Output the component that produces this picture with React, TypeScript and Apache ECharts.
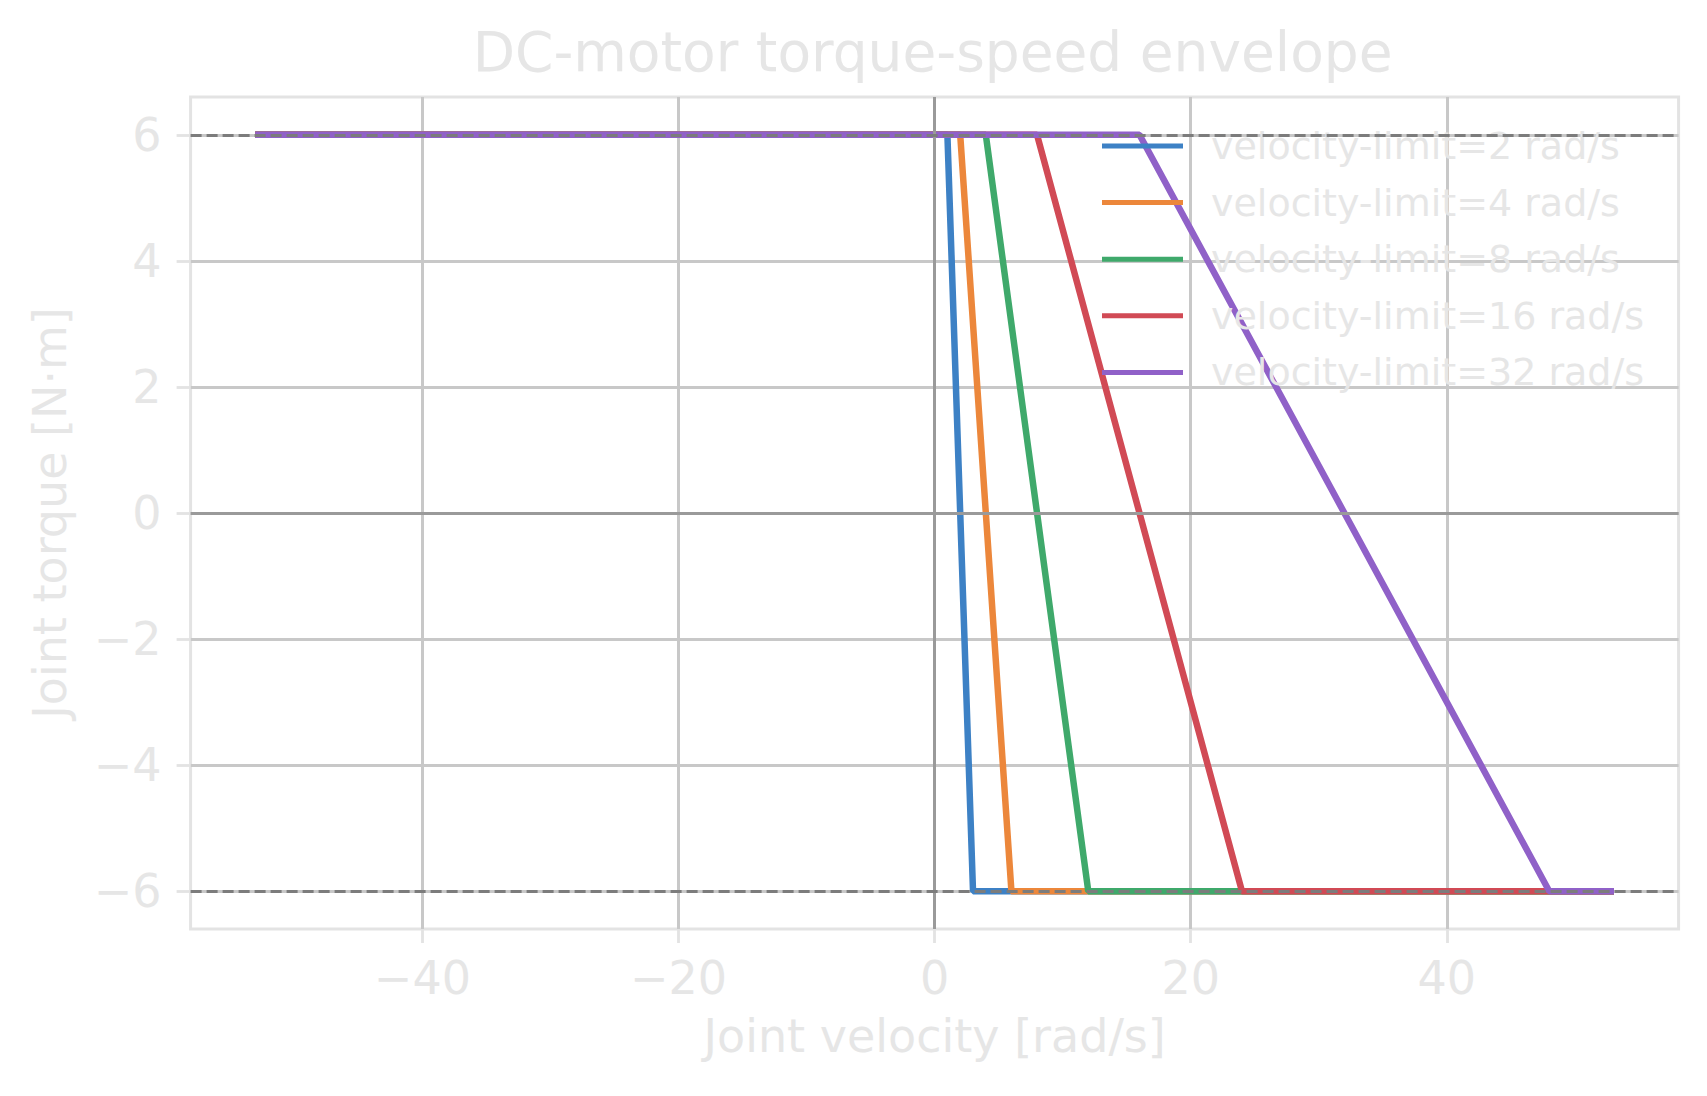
import React, { useEffect, useRef } from "react";
import * as echarts from "echarts";

// ---- data ----
const velocityLimits = [2, 4, 8, 16, 32];
const seriesNames = ["velocity-limit=2 rad/s", "velocity-limit=4 rad/s", "velocity-limit=8 rad/s", "velocity-limit=16 rad/s", "velocity-limit=32 rad/s"];
const seriesColors = ["#3d81c5", "#ec873b", "#3fa96b", "#d14a55", "#9061c8"];
// envelope breakpoints [velocity, torque]
const envelope2 = [[-52.8, 6], [1, 6], [3, -6], [52.8, -6]];
const envelope4 = [[-52.8, 6], [2, 6], [6, -6], [52.8, -6]];
const envelope8 = [[-52.8, 6], [4, 6], [12, -6], [52.8, -6]];
const envelope16 = [[-52.8, 6], [8, 6], [24, -6], [52.8, -6]];
const envelope32 = [[-52.8, 6], [16, 6], [48, -6], [52.8, -6]];
const torqueLimits = [6, -6];
const xTicks = [-40, -20, 0, 20, 40];
const yTicks = [-6, -4, -2, 0, 2, 4, 6];
const xRange = [-58.1, 58.1];
const yRange = [-6.6, 6.6];

const TEXT = "#e6e6e6";
const FONT = "DejaVu Sans";

export default function App() {
  const ref = useRef<HTMLDivElement>(null);
  useEffect(() => {
    document.body.style.margin = "0";
    const chart = echarts.init(ref.current!, null, { renderer: "svg" });
    const envelopes = [envelope2, envelope4, envelope8, envelope16, envelope32];
    const minus = (v: number) => String(v).replace("-", "\u2212");
    const gridL = 190.6, gridR = 1678.6, gridT = 97, gridB = 929;
    const lineSeries: any[] = envelopes.map((d, i) => ({
      type: "line",
      name: seriesNames[i],
      data: d,
      showSymbol: false,
      symbol: "none",
      color: seriesColors[i],
      lineStyle: { color: seriesColors[i], width: 6.5, cap: "square" },
      emphasis: { disabled: true },
      z: 3,
    }));
    lineSeries[0].markLine = {
      silent: true,
      symbol: "none",
      label: { show: false },
      lineStyle: { color: "#9a9a9a", width: 3, type: "solid" },
      data: [{ xAxis: 0 }, { yAxis: 0 }],
    };
    const dashSeries = {
      type: "line",
      name: "limits",
      data: [[0, torqueLimits[0]]],
      showSymbol: false,
      symbol: "none",
      lineStyle: { width: 0 },
      z: 6,
      markLine: {
        silent: true,
        symbol: "none",
        label: { show: false },
        lineStyle: { color: "#7c7c7c", width: 3.2, type: [11, 5] },
        data: torqueLimits.map((t) => ({ yAxis: t })),
      },
    };
    chart.setOption({
      animation: false,
      backgroundColor: "#ffffff",
      textStyle: { fontFamily: FONT },
      grid: {
        left: gridL,
        right: 1707 - gridR,
        top: gridT,
        bottom: 1096 - gridB,
        show: true,
        borderColor: "#e3e3e3",
        borderWidth: 3,
        backgroundColor: "transparent",
      },
      xAxis: {
        type: "value",
        min: xRange[0],
        max: xRange[1],
        minInterval: 20,
        maxInterval: 20,
        splitNumber: 6,
        name: "Joint velocity [rad/s]",
        nameLocation: "middle",
        nameGap: 84,
        nameTextStyle: { fontSize: 46, color: TEXT, fontFamily: FONT, lineHeight: 46 },
        axisLine: { show: false, onZero: false },
        axisTick: { show: true, length: 14, customValues: xTicks, lineStyle: { color: "#e3e3e3", width: 2.8 } },
        axisLabel: {
          fontSize: 46,
          color: TEXT,
          fontFamily: FONT,
          margin: 26,
          lineHeight: 46,
          customValues: xTicks,
          formatter: minus,
        },
        splitLine: { show: true, lineStyle: { color: "#c8c8c8", width: 3 } },
      },
      yAxis: {
        type: "value",
        min: yRange[0],
        max: yRange[1],
        minInterval: 2,
        maxInterval: 2,
        splitNumber: 6,
        name: "Joint torque [N\u00b7m]",
        nameLocation: "middle",
        nameGap: 118,
        nameRotate: 90,
        nameTextStyle: { fontSize: 46, color: TEXT, fontFamily: FONT, lineHeight: 46 },
        axisLine: { show: false, onZero: false },
        axisTick: { show: true, length: 14, customValues: yTicks, lineStyle: { color: "#e3e3e3", width: 2.8 } },
        axisLabel: {
          fontSize: 46,
          color: TEXT,
          fontFamily: FONT,
          margin: 29,
          customValues: yTicks,
          formatter: minus,
        },
        splitLine: { show: true, lineStyle: { color: "#c8c8c8", width: 3 } },
      },
      legend: {
        data: seriesNames,
        orient: "vertical",
        left: 1102,
        top: 127,
        padding: 0,
        itemWidth: 81,
        itemHeight: 5,
        itemGap: 18.6,
        icon: "rect",
        selectedMode: false,
        textStyle: { fontSize: 38, color: TEXT, fontFamily: FONT, lineHeight: 38, padding: [0, 0, 0, 23] },
      },
      graphic: [
        {
          type: "text",
          x: (gridL + gridR) / 2 - 2,
          y: 52,
          silent: true,
          style: {
            text: "DC-motor torque-speed envelope",
            fontSize: 55,
            fontFamily: FONT,
            fill: TEXT,
            textAlign: "center",
            textVerticalAlign: "middle",
          },
        },
      ],
      series: [...lineSeries, dashSeries],
    });
    return () => chart.dispose();
  }, []);
  return <div ref={ref} style={{ position: "absolute", left: 0, top: 0, width: 1707, height: 1096 }} />;
}
